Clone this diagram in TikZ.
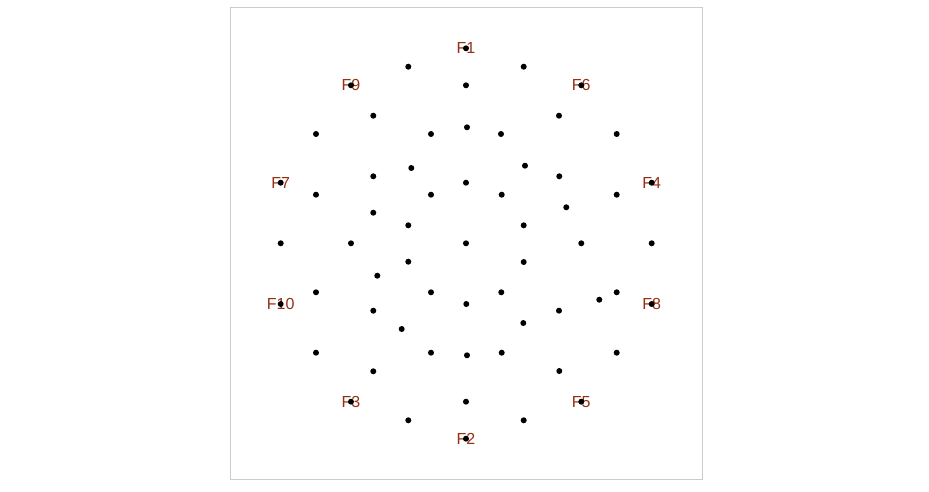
\documentclass[tikz,border=0pt]{standalone}
\usepackage{fontspec}
\setmainfont{Liberation Sans}
\usepackage{tikz}
\definecolor{labred}{RGB}{150,48,18}
\pgfdeclarelayer{labels}
\pgfsetlayers{labels,main}
\tikzset{
  dot/.style={circle, fill=black, inner sep=0pt, minimum size=6pt},
  flab/.style={text=labred, font=\fontsize{16}{16}\selectfont, inner sep=0pt}
}

\begin{document}
\begin{tikzpicture}[x=1pt,y=1pt]
                \useasboundingbox (-466,-247.7) rectangle (463,243.3);
                \draw[black!20, line width=1pt] (-235.7,-235.7) rectangle (236.3,236.3);
                % design points, numbered row by row from the top
                \foreach \px/\py [count=\i] in {
                    0/195, -57.7/176.6, 57.7/176.6, -115/158, 0/158, 115.3/158,
                    -92.7/127.6, 93/127.6, -150/109.3, -35/109.3, 1/116, 35/109.3, 150.7/109.3,
                    -185.3/60.6, -150/48.6, -92.7/67, -54.7/75.3, -35/48.6, 0/60.6, 59/77.6,
                    93.3/67, 185.7/60.6, 35.7/48.6, 150.7/48.6, 100.3/36,
                    -92.7/30.6, -57.7/18, 57.7/18,
                    -185.3/0, -115/0, 0/0, 115.3/0, 185.7/0,
                    -57.7/-18.4, 57.7/-18.7, -88.7/-32.4,
                    -150/-49, -35/-49, 35.3/-49, 150.7/-49, 133.3/-56.4,
                    -185.3/-60.7, 0.3/-60.7, 185.7/-60.7,
                    -92.7/-67.4, 93/-67.4, 57.3/-79.7, -64.3/-85.7,
                    -150/-109.4, -35/-109.4, 1/-112, 35.7/-109.4, 150.7/-109.4,
                    -92.7/-128, 93.3/-127.7,
                    -115/-158.4, 0/-158.4, 115.3/-158.4,
                    -57.7/-177, 57.7/-177, 0/-195.4}
                    \node[dot] (p\i) at (\px,\py) {};
                % factor labels, under the points
                \begin{pgfonlayer}{labels}
                \node[flab] (f1) at (p1) {F1};
                \node[flab] (f2) at (p61) {F2};
                \node[flab] (f3) at (p56) {F3};
                \node[flab] (f4) at (p22) {F4};
                \node[flab] (f5) at (p58) {F5};
                \node[flab] (f6) at (p6) {F6};
                \node[flab] (f7) at (p14) {F7};
                \node[flab] (f8) at (p44) {F8};
                \node[flab] (f9) at (p4) {F9};
                \node[flab] (f10) at (p42) {F10};
                \end{pgfonlayer}
            \end{tikzpicture}
\end{document}
